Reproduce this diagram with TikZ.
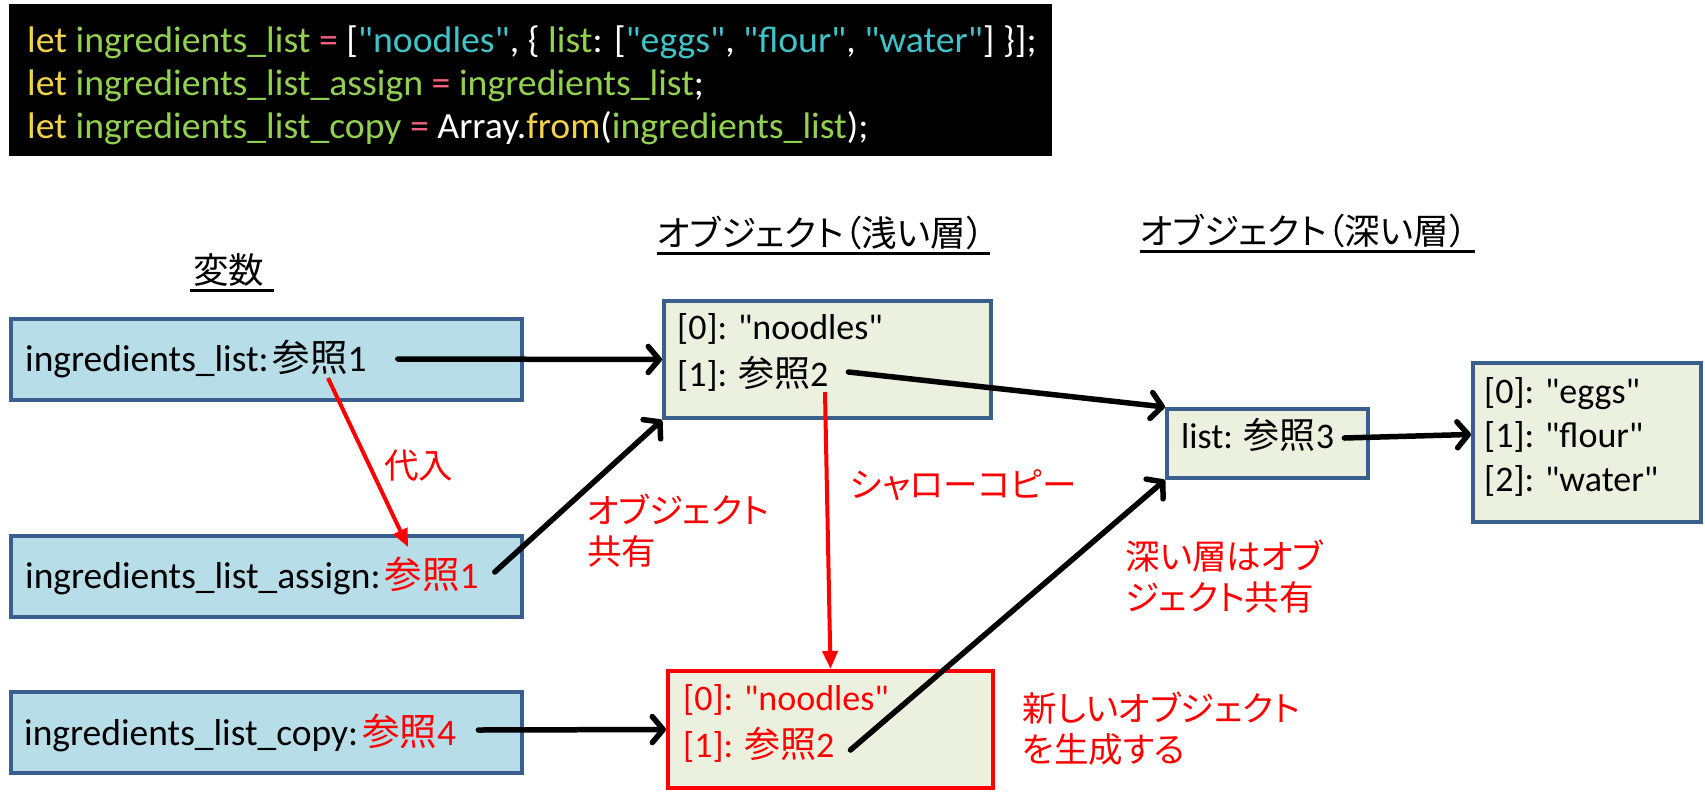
\documentclass[tikz,border=0pt]{standalone}
\usepackage{fontspec}
\setmainfont{Carlito}[Ligatures=TeXOff]
\newfontfamily\codefont{Carlito}[Ligatures=TeXOff, FakeStretch=1.02]
\newfontfamily\jp[RawFeature={+palt}]{Noto Sans CJK JP}
\usetikzlibrary{arrows.meta}
\definecolor{varfill}{HTML}{B7DEE8}
\definecolor{objfill}{HTML}{EBF1DE}
\definecolor{bord}{HTML}{3A5F8E}
\definecolor{cy}{HTML}{F2D14B}
\definecolor{cg}{HTML}{92D050}
\definecolor{cc}{HTML}{3FC3C8}
\definecolor{cp}{HTML}{F4607E}
\definecolor{redc}{HTML}{FF0000}
\newcommand{\cdY}[1]{\textcolor{cy}{#1}}
\newcommand{\cdG}[1]{\textcolor{cg}{#1}}
\newcommand{\cdC}[1]{\textcolor{cc}{#1}}
\newcommand{\cdP}[1]{\textcolor{cp}{#1}}
\tikzset{
  varbox/.style={draw=bord, fill=varfill, line width=4pt, inner sep=0pt, anchor=north west},
  objbox/.style={draw=bord, fill=objfill, line width=4pt, inner sep=0pt, anchor=north west},
  newbox/.style={draw=redc, fill=objfill, line width=4pt, inner sep=0pt, anchor=north west},
  vtxt/.style={font=\fontsize{37.5}{42}\selectfont, inner sep=0pt, anchor=base west},
  txt/.style={font=\fontsize{36}{42}\selectfont, inner sep=0pt, anchor=base west},
  code/.style={font=\fontsize{37}{44}\codefont\selectfont, text=white, inner sep=0pt, anchor=base west},
  hdr/.style={font=\fontsize{35.5}{40}\selectfont\jp, inner sep=0pt, anchor=base west},
  lbl/.style={font=\fontsize{34.5}{41}\selectfont\jp, text=redc, inner sep=0pt, anchor=west, align=left},
  ul/.style={line width=3pt},
  blk/.style={line width=5.5pt, line cap=round, -{Straight Barb[round, length=11pt, width=26pt]}},
  redarr/.style={draw=redc, line width=4pt, -{Triangle[length=18pt, width=15pt]}}
}
\begin{document}
\begin{tikzpicture}[x=1pt, y=-1pt]
\useasboundingbox (0,0) rectangle (1705,793);
% code block
\fill[black] (9,4) rectangle (1052,156);
\node[code] (c1) at (27,52) {\cdY{let} \cdG{ingredients\_list} \cdP{=} [\cdC{"noodles"}, \{ \cdG{list}: [\cdC{"eggs"}, \cdC{"flour"}, \cdC{"water"}] \}];};
\node[code] (c2) at (27,95) {\cdY{let} \cdG{ingredients\_list\_assign} \cdP{=} \cdG{ingredients\_list};};
\node[code] (c3) at (27,138) {\cdY{let} \cdG{ingredients\_list\_copy} \cdP{=} Array.\cdY{from}(\cdG{ingredients\_list});};
% headers
\node[hdr] (h1) at (193,283) {変数};
\draw[ul] (190,290) -- (274,290);
\node[hdr] (h2) at (657,246) {オブジェクト（浅い層）};
\draw[ul] (657,253) -- (990,253);
\node[hdr] (h3) at (1140,244) {オブジェクト（深い層）};
\draw[ul] (1140,251) -- (1475,251);
% boxes
\node[varbox, minimum width=511pt, minimum height=81pt] (v1) at (9,317) {};
\node[varbox, minimum width=511pt, minimum height=81pt] (v2) at (9,534) {};
\node[varbox, minimum width=511pt, minimum height=81pt] (v3) at (9,690) {};
\node[objbox, minimum width=327pt, minimum height=117pt] (o1) at (662,299) {};
\node[objbox, minimum width=201pt, minimum height=69pt] (ls) at (1165,407) {};
\node[objbox, minimum width=228pt, minimum height=159pt] (eg) at (1471,361) {};
\node[newbox, minimum width=325pt, minimum height=117pt] (cp) at (666,669) {};
% box texts
\node[vtxt] (t1) at (25,371) {ingredients\_list:\hspace{4pt}{\jp 参照}1};
\node[vtxt] (t2) at (25,588) {ingredients\_list\_assign:\hspace{4pt}\textcolor{redc}{{\jp 参照}1}};
\node[vtxt] (t3) at (24,745) {ingredients\_list\_copy:\hspace{4pt}\textcolor{redc}{{\jp 参照}4}};
\node[txt] (o1a) at (677,339) {[0]: "noodles"};
\node[txt] (o1b) at (677,386) {[1]: {\jp 参照}2};
\node[txt] (lst) at (1181,448) {list: {\jp 参照}3};
\node[txt] (e0) at (1484,403) {[0]: "eggs"};
\node[txt] (e1) at (1484,447) {[1]: "flour"};
\node[txt] (e2) at (1484,491) {[2]: "water"};
\node[txt, text=redc] (cpa) at (683,710) {[0]: "noodles"};
\node[txt, text=redc] (cpb) at (683,757) {[1]: {\jp 参照}2};
% labels
\node[lbl] (l1) at (384,466) {代入};
\node[lbl] (l2) at (587,531) {オブジェクト\\共有};
\node[lbl] (l3) at (850,485) {シャローコピー};
\node[lbl] (l4) at (1125,577) {深い層はオブ\\ジェクト共有};
\node[lbl] (l5) at (1022,729) {新しいオブジェクト\\を生成する};
% connectors
\coordinate (r1s) at (328,378);
\coordinate (r1e) at (408,547);
\coordinate (r2s) at (825,392);
\draw[blk] ([xshift=31pt,yshift=12pt]t1.base east) -- (o1.west);
\draw[blk] ([xshift=16pt,yshift=16pt]t2.base east) -- (o1.south west);
\draw[blk] ([xshift=20pt,yshift=14pt]o1b.base east) -- (ls.north west);
\draw[blk] ([xshift=10pt,yshift=10pt]lst.base east) -- (eg.west |- lst.east);
\draw[blk] ([xshift=16pt,yshift=7pt]cpb.base east) -- (ls.south west);
\draw[blk] ([xshift=22pt,yshift=15pt]t3.base east) -- (cp.west);
\draw[redarr] (r1s) -- (r1e);
\draw[redarr] (r2s) -- (cp.north);
\end{tikzpicture}
\end{document}
